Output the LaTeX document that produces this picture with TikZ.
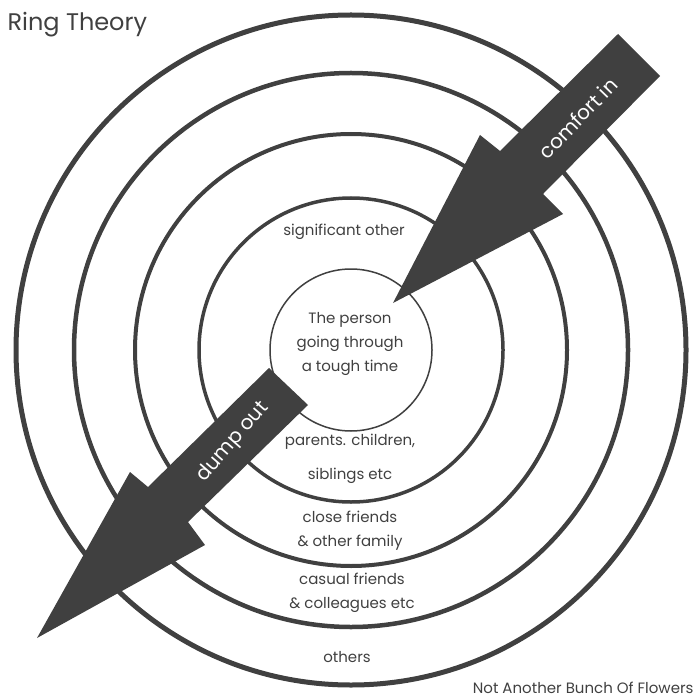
\documentclass[tikz,border=0pt]{standalone}
\usepackage{fontspec}
\setmainfont{Poppins}
\usepackage{tikz}
\definecolor{ringgrey}{HTML}{404040}
\tikzset{lbl/.style={font=\fontsize{15}{24}\selectfont,text=ringgrey,align=center},
arrowtext/.style={font=\fontsize{20}{24}\selectfont,text=white}}

\begin{document}
\begin{tikzpicture}[x=1pt,y=-1pt]
\useasboundingbox (0,0) rectangle (700,700);

%rings, outside in
\foreach \r/\w in {335/5,277/4.5,216/4,152/3.5,81/1.5}
{
\draw[ringgrey,line width=\w pt] (351,350) circle (\r);
}

%comfort in arrow
\fill[ringgrey] (618,34) -- (660,76) -- (543,194) -- (563,214) -- (393,303)
 -- (480,135) -- (500,151) -- cycle;
%dump out arrow
\fill[ringgrey] (269,368) -- (308,405) -- (188,522) -- (205,545) -- (37,638)
 -- (130,472) -- (148,487) -- cycle;

\node[arrowtext,rotate=46] (comfort) at (578,118) {comfort in};
\node[arrowtext,rotate=49] (dump) at (233,442) {dump out};

\node[font=\fontsize{24}{24}\selectfont,text=ringgrey,anchor=west] (title) at (4,25) {Ring Theory};
\node[lbl] (person) at (350,344) {The person\\going through\\a tough time};
\node[lbl] (sig) at (344,232) {significant other};
\node[lbl,font=\fontsize{15}{34}\selectfont] (parents) at (350,459) {parents. children,\\siblings etc};
\node[lbl] (close) at (350,531) {close friends\\\& other family};
\node[lbl] (casual) at (352,593) {casual friends\\\& colleagues etc};
\node[lbl] (others) at (347,657) {others};
\node[lbl,anchor=east] (credit) at (697,688) {Not Another Bunch Of Flowers};
\end{tikzpicture}
\end{document}
